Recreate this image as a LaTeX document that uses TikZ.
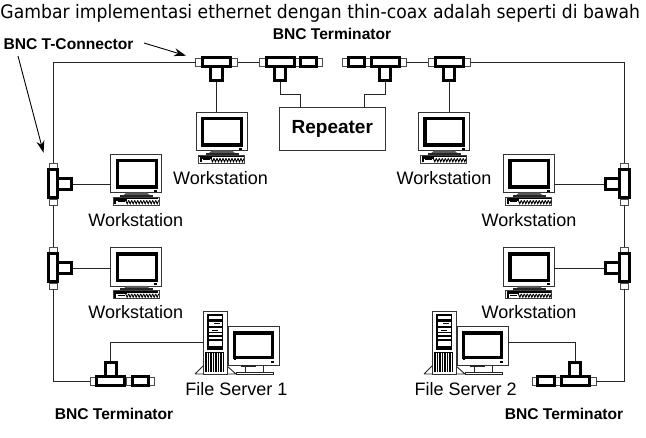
\documentclass[tikz,border=0pt]{standalone}
\usepackage{fontspec}
\setmainfont{Liberation Sans}
\newfontfamily\headfont[FakeStretch=0.925]{DejaVu Sans}
\usetikzlibrary{arrows.meta,calc}

\tikzset{
  wire/.style={line width=0.9, draw=black!85},
  thickbox/.style={draw=black, line width=3, fill=white},
  capbox/.style={draw=black!70, line width=0.8, fill=white},
  frameline/.style={draw=black!80, line width=0.9, fill=white},
  monframe/.style={frameline, rectangle, inner sep=0, outer sep=0, minimum width=51, minimum height=38.5, anchor=north west},
  labeltext/.style={font=\fontsize{18}{18}\selectfont, anchor=base, inner sep=0},
  boldtext/.style={font=\fontsize{15.6}{16}\selectfont\bfseries, anchor=base, inner sep=0},
  pointer/.style={line width=0.9, -{Stealth[length=12, width=8]}},
  % T connector: bus runs along the local x axis, branch along local +y
  tconn/.pic={
    \draw[capbox] (-21,-4) rectangle (-15,4);
    \draw[capbox] (15,-4) rectangle (21,4);
    \draw[thickbox] (-5.6,0) rectangle (5.6,18.7);
    \draw[thickbox] (-14,-4.7) rectangle (14,4.7);
    \coordinate (-a) at (-21,0);
    \coordinate (-b) at (21,0);
    \coordinate (-stem) at (0,20.2);
  },
  % terminator: plug body with its cap on the local +x side
  termplug/.pic={
    \draw[capbox] (9,-4) rectangle (14,4);
    \draw[thickbox] (-8.2,-4.7) rectangle (8.2,4.7);
  },
  % desktop monitor on a keyboard
  workst/.pic={
    \node[monframe] (-frame) at (0,0) {};
    \draw[draw=black, line width=3.2] (6.6,6.6) rectangle (45.4,33);
    \fill[black] (43.3,36) rectangle (46.3,37.6);
    \fill[black!65] (16,38.5) -- (36,38.5) -- (39,41) -- (13,41) -- cycle;
    \fill[black!85] (9.5,41) rectangle (42.7,43);
    \draw[draw=black!75, line width=0.8, fill=white] (2.5,43.2) rectangle (48.3,51);
    \fill[black] (3.2,44) rectangle (47.6,45.2);
    \fill[black] (3.6,45.2) rectangle (16,47);
    \fill[black] (3.6,47) rectangle (5.6,50.2);
    \draw[black, line width=0.8] (7,47.8) -- (14,47.8);
    \foreach \kx in {15,18,...,45}
      \draw[black, line width=0.9] (\kx,46.4) -- (\kx+1.5,49.8) -- (\kx+3,46.4);
  },
  % tower case with a desktop monitor beside it
  srvstation/.pic={
    \draw[wire] (-8,63) -- (0,55) (24,55) -- (33,63) (-8,63) -- (33,63);
    \node[frameline, rectangle, inner sep=0, outer sep=0, minimum width=24, minimum height=63, anchor=north west] (-tower) at (0,0) {};
    \fill[black] (4,3) rectangle (20,39.5);
    \fill[white] (5.5,5.5) rectangle (18.5,8.5);
    \fill[white] (5.5,11) rectangle (18.5,15);
    \fill[white] (5.5,17.5) rectangle (18.5,21);
    \fill[white] (5.5,22.5) rectangle (18.5,24.5);
    \fill[white] (5.5,26.5) rectangle (18.5,28);
    \fill[white] (5.5,30) rectangle (18.5,35);
    \fill[black] (11,12.5) rectangle (17,13.5);
    \fill[black] (9,19) rectangle (15,20);
    \foreach \gx in {3,5.5,...,20.5}
      \draw[black, line width=1.1] (\gx,41.5) -- (\gx,61);
    \draw[black, line width=0.8] (3,41.5) -- (21,41.5);
    \node[monframe] (-frame) at (25.5,15.5) {};
    \draw[draw=black, line width=3.2] (31.8,22.1) rectangle (69.7,46.8);
    \fill[black] (31,47) rectangle (33.2,48.6);
    \fill[black] (68,50.5) rectangle (71,52);
    \draw[wire] (38.7,54) rectangle (52,55.5);
    \draw[wire] (42,55.5) -- (42,61) (60,54) -- (60,61);
    \draw[wire] (33.7,61) rectangle (70,63.5);
  }
}

\begin{document}
\begin{tikzpicture}[x=1pt, y=-1pt]
\useasboundingbox (0,0) rectangle (646,438);
\fill[white] (0,0) rectangle (646,438);

% heading
\node[anchor=base west, inner sep=0, font=\headfont\fontsize{18.6}{19}\selectfont] (heading) at (0.3,18.2)
  {Gambar implementasi ethernet dengan thin-coax adalah seperti di bawah};

% workstations
\pic (wa) at (196,112) {workst};
\pic (wb) at (110.7,154) {workst};
\pic (wc) at (110.7,247.5) {workst};
\pic (wd) at (418.3,112) {workst};
\pic (we) at (503.3,154) {workst};
\pic (wf) at (503.3,247.5) {workst};

% file servers
\pic (sa) at (203,311) {srvstation};
\pic (sb) at (432,311) {srvstation};

% repeater
\node[draw=black!80, line width=0.9, rectangle, inner sep=0, outer sep=0, minimum width=106.7, minimum height=43,
      font=\fontsize{19}{19}\selectfont\bfseries] (rep) at (332.3,128.5) {Repeater};

% T connectors on the cable
\pic (ta) at (216.5,62) {tconn};
\pic (tb) at (280,62) {tconn};
\pic (tc) at (385,62) {tconn};
\pic (td) at (449,62) {tconn};
\pic[rotate=90] (la) at (53,184) {tconn};
\pic[rotate=90] (lb) at (53,268) {tconn};
\pic[rotate=-90] (ra) at (624.5,184) {tconn};
\pic[rotate=-90] (rb) at (624.5,268) {tconn};
\pic[rotate=180] (ba) at (110.9,381) {tconn};
\pic[rotate=180] (bb) at (575,381) {tconn};

% terminators
\pic at (308.5,62) {termplug};
\pic[rotate=180] at (356.5,62) {termplug};
\pic at (140.5,381) {termplug};
\pic[rotate=180] at (546,381) {termplug};

% coaxial bus
\draw[wire] (ta-a) -| (la-b);
\draw[wire] (la-a) -- (lb-b);
\draw[wire] (lb-a) |- (ba-b);
\draw[wire] (ta-b) -- (tb-a);
\draw[wire] (tc-b) -- (td-a);
\draw[wire] (td-b) -| (ra-a);
\draw[wire] (ra-b) -- (rb-a);
\draw[wire] (rb-b) |- (bb-a);

% drops to the stations
\draw[wire] (ta-stem) -- (ta-stem |- wa-frame.north);
\draw[wire] (td-stem) -- (td-stem |- wd-frame.north);
\draw[wire] (la-stem) -- (la-stem -| wb-frame.west);
\draw[wire] (lb-stem) -- (lb-stem -| wc-frame.west);
\draw[wire] (ra-stem) -- (ra-stem -| we-frame.east);
\draw[wire] (rb-stem) -- (rb-stem -| wf-frame.east);
\coordinate (drop) at (110.9,342);
\draw[wire] (ba-stem) -- (drop) -- (drop -| sa-tower.west);
\coordinate (dropr) at (575,342);
\draw[wire] (bb-stem) -- (dropr) -- (dropr -| sb-frame.east);

% repeater links
\coordinate (lnkl) at (300.7,94);
\coordinate (lnkr) at (364.3,94);
\draw[wire] (tb-stem) |- (lnkl) -- (lnkl |- rep.north);
\draw[wire] (tc-stem) |- (lnkr) -- (lnkr |- rep.north);

% labels
\node[labeltext] (la1) at (220.5,185) {Workstation};
\node[labeltext] (la2) at (135.7,227) {Workstation};
\node[labeltext] (la3) at (135.7,319) {Workstation};
\node[labeltext] (la4) at (444,185) {Workstation};
\node[labeltext] (la5) at (529,227) {Workstation};
\node[labeltext] (la6) at (529,319) {Workstation};
\node[labeltext] (la7) at (236.5,395.7) {File Server 1};
\node[labeltext] (la8) at (465.7,395.7) {File Server 2};
\node[boldtext] (bt1) at (332,39.4) {BNC Terminator};
\node[boldtext] (bt2) at (114,420) {BNC Terminator};
\node[boldtext] (bt3) at (564,420) {BNC Terminator};
\node[boldtext] (bt4) at (68.5,50) {BNC T-Connector};

% pointers from the T-connector caption
\coordinate (pa0) at (144,43);
\coordinate (pa1) at (186,55.7);
\coordinate (pb0) at (18,56);
\coordinate (pb1) at (43.5,152.7);
\draw[pointer] (pa0) -- (pa1);
\draw[pointer] (pb0) -- (pb1);
\end{tikzpicture}
\end{document}
